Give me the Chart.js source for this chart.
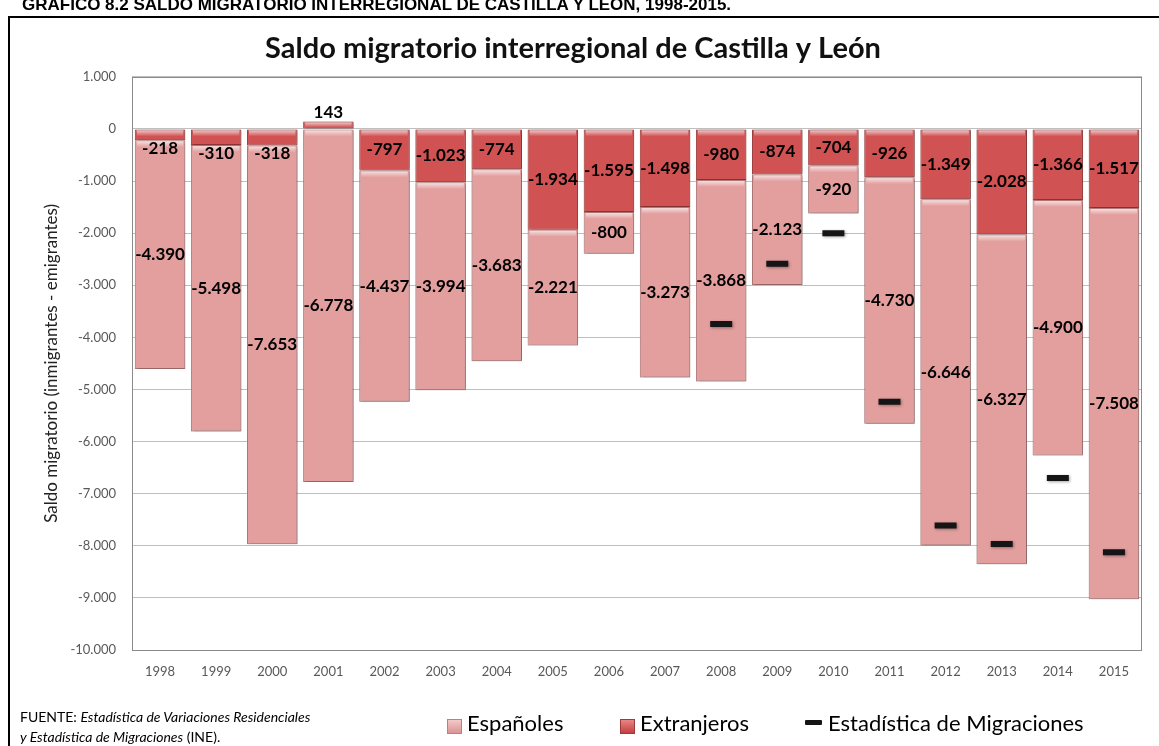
<!DOCTYPE html>
<html lang="es">
<head>
<meta charset="utf-8">
<title>Saldo migratorio interregional de Castilla y León</title>
<script src="https://cdn.jsdelivr.net/npm/chart.js@4.4.1/dist/chart.umd.min.js"></script>
<style>
  html, body { margin: 0; padding: 0; background: #fff; overflow: hidden; }
  body { width: 1159px; height: 746px; position: relative; font-family: Lato, "Open Sans", sans-serif; color: #000; }
  #marco { position: absolute; left: 8px; top: 16px; width: 1200px; height: 800px; border: 2px solid #000; box-sizing: border-box; }
  #cabecera { position: absolute; left: 19px; top: -4px; padding: 0 3px; background: #fff; z-index: 3;
    font: bold 17px "Liberation Sans", Arial, sans-serif; line-height: 17px; white-space: nowrap; }
  #lienzo { position: absolute; left: 0; top: 0; width: 1159px; height: 746px; z-index: 2; }
  .leyenda { position: absolute; top: 710px; font-size: 22px; line-height: 26px; white-space: nowrap; z-index: 4; }
  .caja { position: absolute; top: 719px; width: 15px; height: 15px; box-sizing: border-box; z-index: 4; }
  #caja-esp { left: 447px; background: linear-gradient(#f3c9c9, #dc9393); border: 1px solid #b98181; }
  #caja-ext { left: 620px; background: linear-gradient(#e98585, #c43f3f); border: 1px solid #9e3a3a; }
  #raya { position: absolute; left: 805px; top: 720px; width: 17px; height: 5px; background: #151515; border-radius: 1px; z-index: 4; }
  #fuente { position: absolute; left: 20px; top: 707px; font-size: 14px; line-height: 20px; z-index: 4; white-space: nowrap; }
</style>
</head>
<body>
<div id="marco"></div>
<div id="cabecera">GRÁFICO 8.2 SALDO MIGRATORIO INTERREGIONAL DE CASTILLA Y LEÓN, 1998-2015.</div>
<div id="lienzo"><canvas id="grafico"></canvas></div>

<span class="caja" id="caja-esp"></span>
<span class="leyenda" style="left:467px">Españoles</span>
<span class="caja" id="caja-ext"></span>
<span class="leyenda" style="left:640px">Extranjeros</span>
<span id="raya"></span>
<span class="leyenda" style="left:828px">Estadística de Migraciones</span>

<div id="fuente">FUENTE: <i>Estadística de Variaciones Residenciales</i><br><i>y Estadística de Migraciones</i> (INE).</div>

<script>
// datos
const anios = ['1998', '1999', '2000', '2001', '2002', '2003', '2004', '2005', '2006',
               '2007', '2008', '2009', '2010', '2011', '2012', '2013', '2014', '2015'];

const espanoles = [-4390, -5498, -7653, -6778, -4437, -3994, -3683, -2221, -800,
                   -3273, -3868, -2123, -920, -4730, -6646, -6327, -4900, -7508];

const extranjeros = [-218, -310, -318, 143, -797, -1023, -774, -1934, -1595,
                     -1498, -980, -874, -704, -926, -1349, -2028, -1366, -1517];

// Estadística de Migraciones solo desde 2008 (valores estimados)
const estadisticaMigraciones = [null, null, null, null, null, null, null, null, null,
                                null, -3745, -2590, -2000, -5235, -7610, -7965, -6700, -8125];

const ejeY = { min: -10000, max: 1000, paso: 1000 };

// 1234 -> "1.234"
function formato(v) {
    const s = Math.abs(v).toString().replace(/\B(?=(\d{3})+(?!\d))/g, '.');
    return (v < 0 ? '-' : '') + s;
}

// borde alrededor del area del grafico
const bordeArea = {
    id: 'bordeArea',
    beforeDatasetsDraw(chart) {
        const a = chart.chartArea;
        const ctx = chart.ctx;
        ctx.save();
        ctx.strokeStyle = '#8a8a8a';
        ctx.lineWidth = 1;
        ctx.strokeRect(Math.round(a.left) + 0.5, Math.round(a.top) + 0.5,
                       Math.round(a.right - a.left) - 1, Math.round(a.bottom - a.top));
        ctx.restore();
    }
};

// sombra suave y brillo arriba de cada segmento (efecto bisel)
const bisel = {
    id: 'bisel',
    beforeDatasetsDraw(chart) {
        const ctx = chart.ctx;
        ctx.save();
        ctx.shadowColor = 'rgba(0, 0, 0, 0.35)';
        ctx.shadowBlur = 3;
        ctx.shadowOffsetX = 1;
        ctx.shadowOffsetY = 1;
    },
    afterDatasetsDraw(chart) {
        const ctx = chart.ctx;
        ctx.restore();
        ctx.save();
        chart.data.datasets.forEach((ds, i) => {
            if (ds.type === 'line') return;
            chart.getDatasetMeta(i).data.forEach((barra) => {
                const arriba = Math.min(barra.y, barra.base);
                const abajo = Math.max(barra.y, barra.base);
                const alto = Math.min(6, abajo - arriba - 2);
                if (alto <= 0) return;
                const izq = barra.x - barra.width / 2 + 2;
                const g = ctx.createLinearGradient(0, arriba + 1, 0, arriba + 1 + alto);
                g.addColorStop(0, 'rgba(255, 255, 255, 0.65)');
                g.addColorStop(1, 'rgba(255, 255, 255, 0)');
                ctx.fillStyle = g;
                ctx.fillRect(izq, arriba + 1, barra.width - 4, alto);
            });
        });
        ctx.restore();
    }
};

// etiquetas de valor sobre las barras
const etiquetas = {
    id: 'etiquetas',
    afterDatasetsDraw(chart) {
        const ctx = chart.ctx;
        ctx.save();
        ctx.font = 'bold 17px Lato, "Open Sans", sans-serif';
        ctx.fillStyle = '#000';
        ctx.textAlign = 'center';
        ctx.textBaseline = 'middle';
        chart.data.datasets.forEach((ds, i) => {
            if (ds.type === 'line') return;
            chart.getDatasetMeta(i).data.forEach((barra, j) => {
                const v = ds.data[j];
                const arriba = Math.min(barra.y, barra.base);
                const abajo = Math.max(barra.y, barra.base);
                let y = (arriba + abajo) / 2;
                if (v > 0) y = arriba - 9;
                else if (abajo - arriba < 18) y = abajo + 8;
                ctx.fillText(formato(v), barra.x, y);
            });
        });
        ctx.restore();
    }
};

const ctx = document.getElementById('grafico').getContext('2d');

new Chart(ctx, {
    data: {
        labels: anios,
        datasets: [
            {
                type: 'bar',
                label: 'Extranjeros',
                data: extranjeros,
                backgroundColor: '#d05252',
                borderColor: '#a33e3e',
                borderWidth: 1,
                borderSkipped: false,
                order: 1
            },
            {
                type: 'bar',
                label: 'Españoles',
                data: espanoles,
                backgroundColor: '#e39e9e',
                borderColor: '#b47a7a',
                borderWidth: 1,
                borderSkipped: false,
                order: 1
            },
            {
                type: 'line',
                label: 'Estadística de Migraciones',
                data: estadisticaMigraciones,
                stack: 'em',
                showLine: false,
                pointStyle: 'line',
                pointRadius: 11,
                pointHoverRadius: 11,
                pointBorderWidth: 6,
                pointHoverBorderWidth: 6,
                pointBorderColor: '#151515',
                order: 0
            }
        ]
    },
    options: {
        responsive: true,
        maintainAspectRatio: false,
        animation: false,
        datasets: {
            bar: { barPercentage: 0.9, categoryPercentage: 1.0 }
        },
        layout: {
            padding: { top: 0, left: 0, right: 13, bottom: 56 }
        },
        plugins: {
            legend: { display: false },
            tooltip: { enabled: false },
            title: {
                display: true,
                text: 'Saldo migratorio interregional de Castilla y León',
                color: '#111',
                font: { family: 'Lato', size: 29, weight: 'bold' },
                padding: { top: 31, bottom: 11 }
            }
        },
        scales: {
            x: {
                stacked: true,
                grid: { display: false, drawTicks: false },
                border: { display: false },
                ticks: {
                    color: '#595959',
                    font: { family: 'Lato', size: 13 },
                    padding: 14,
                    maxRotation: 0,
                    autoSkip: false
                },
                afterFit: function(scale) { scale.height = 40; }
            },
            y: {
                stacked: true,
                min: ejeY.min,
                max: ejeY.max,
                grid: { color: '#bfbfbf', drawTicks: false },
                border: { display: false },
                ticks: {
                    stepSize: ejeY.paso,
                    padding: 16,
                    color: '#595959',
                    font: { family: 'Lato', size: 13 },
                    callback: function(value) { return formato(value); }
                },
                title: {
                    display: true,
                    text: 'Saldo migratorio (inmigrantes - emigrantes)',
                    color: '#222',
                    font: { family: 'Lato', size: 17 },
                    padding: { top: 41, bottom: 0 }
                },
                afterFit: function(scale) { scale.width = 132; }
            }
        }
    },
    plugins: [bordeArea, bisel, etiquetas]
});
</script>
</body>
</html>
